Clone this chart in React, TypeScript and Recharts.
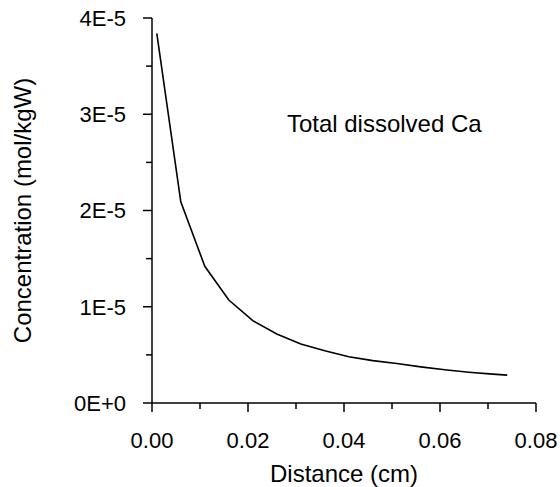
import React from 'react';
import { LineChart, Line, XAxis, YAxis, ReferenceDot } from 'recharts';

const distance = [0.001, 0.006, 0.011, 0.016, 0.021, 0.026, 0.031, 0.036, 0.041, 0.046, 0.051, 0.056, 0.061, 0.066, 0.071, 0.074];
const concentration = [3.84e-5, 2.09e-5, 1.42e-5, 1.07e-5, 0.855e-5, 0.717e-5, 0.613e-5, 0.543e-5, 0.481e-5, 0.44e-5, 0.41e-5, 0.375e-5, 0.345e-5, 0.32e-5, 0.3e-5, 0.29e-5];

const xTicks = [0, 0.01, 0.02, 0.03, 0.04, 0.05, 0.06, 0.07, 0.08];
const xTickLabels = ['0.00', '', '0.02', '', '0.04', '', '0.06', '', '0.08'];
const yTicks = [0, 0.5e-5, 1e-5, 1.5e-5, 2e-5, 2.5e-5, 3e-5, 3.5e-5, 4e-5];
const yTickLabels = ['0E+0', '', '1E-5', '', '2E-5', '', '3E-5', '', '4E-5'];

const annotationText = 'Total dissolved Ca';
const annotationX = 0.0281;
const annotationY = 2.9e-5;

const FONT = '"Liberation Sans", Arial, sans-serif';
const TICK_FONT = 22;
const LABEL_FONT = 24;
const X_TICK_SIZE = 8;
const X_TICK_MARGIN = 21;
const Y_TICK_SIZE = 8;
const Y_TICK_MARGIN = 18;

const data = distance.map((d, i) => ({ distance: d, conc: concentration[i] }));

const XTick = (props: any) => {
  const { x, y, index } = props;
  const label = xTickLabels[index] ?? '';
  const axisY = y - X_TICK_SIZE - X_TICK_MARGIN;
  const len = label ? 9 : 6;
  return (
    <g>
      <line x1={x} x2={x} y1={axisY} y2={axisY + len} stroke="#000" strokeWidth={1.5} />
      {label && (
        <text x={x} y={y} dy="0.71em" textAnchor="middle" fontSize={TICK_FONT} fontFamily={FONT} fill="#000">
          {label}
        </text>
      )}
    </g>
  );
};

const YTick = (props: any) => {
  const { x, y, index } = props;
  const label = yTickLabels[index] ?? '';
  const axisX = x + Y_TICK_SIZE + Y_TICK_MARGIN;
  const len = label ? 9 : 6;
  return (
    <g>
      <line x1={axisX - len} x2={axisX} y1={y} y2={y} stroke="#000" strokeWidth={1.5} />
      {label && (
        <text x={x} y={y} dy="0.355em" textAnchor="end" fontSize={TICK_FONT} fontFamily={FONT} fill="#000">
          {label}
        </text>
      )}
    </g>
  );
};

const YLabel = (props: any) => {
  const { viewBox } = props;
  const cx = viewBox.x + 22;
  const cy = viewBox.y + viewBox.height / 2;
  return (
    <text
      x={cx}
      y={cy}
      dy="0.355em"
      textAnchor="middle"
      transform={`rotate(-90, ${cx}, ${cy})`}
      fontSize={LABEL_FONT}
      fontFamily={FONT}
      fill="#000"
    >
      Concentration (mol/kgW)
    </text>
  );
};

const XLabel = (props: any) => {
  const { viewBox } = props;
  const cx = viewBox.x + viewBox.width / 2;
  const by = viewBox.y + viewBox.height - 5;
  return (
    <text x={cx} y={by} textAnchor="middle" fontSize={LABEL_FONT} fontFamily={FONT} fill="#000">
      Distance (cm)
    </text>
  );
};

const Annotation = (props: any) => {
  const { viewBox } = props;
  const x = viewBox.x + viewBox.width;
  const y = viewBox.y + viewBox.height / 2;
  return (
    <text x={x} y={y} dy="0.355em" fontSize={LABEL_FONT} fontFamily={FONT} fill="#000">
      {annotationText}
    </text>
  );
};

export default function App() {
  return (
    <div style={{ position: 'absolute', left: 0, top: 0, width: 560, height: 487, background: '#fff' }}>
      <LineChart width={560} height={487} data={data} margin={{ top: 18, right: 24, bottom: 0, left: 0 }}>
        <XAxis
          type="number"
          dataKey="distance"
          domain={[0, 0.08]}
          ticks={xTicks}
          interval={0}
          allowDataOverflow
          height={84}
          tickSize={X_TICK_SIZE}
          tickMargin={X_TICK_MARGIN}
          tickLine={false}
          tick={<XTick />}
          axisLine={{ stroke: '#000', strokeWidth: 1.5 }}
          label={<XLabel />}
        />
        <YAxis
          type="number"
          domain={[0, 4e-5]}
          ticks={yTicks}
          interval={0}
          allowDataOverflow
          width={152}
          tickSize={Y_TICK_SIZE}
          tickMargin={Y_TICK_MARGIN}
          tickLine={false}
          tick={<YTick />}
          axisLine={{ stroke: '#000', strokeWidth: 1.5 }}
          label={<YLabel />}
        />
        <Line
          type="linear"
          dataKey="conc"
          stroke="#000"
          strokeWidth={1.6}
          dot={false}
          activeDot={false}
          isAnimationActive={false}
        />
        <ReferenceDot
          x={annotationX}
          y={annotationY}
          r={0}
          fill="none"
          stroke="none"
          label={<Annotation />}
        />
      </LineChart>
    </div>
  );
}
